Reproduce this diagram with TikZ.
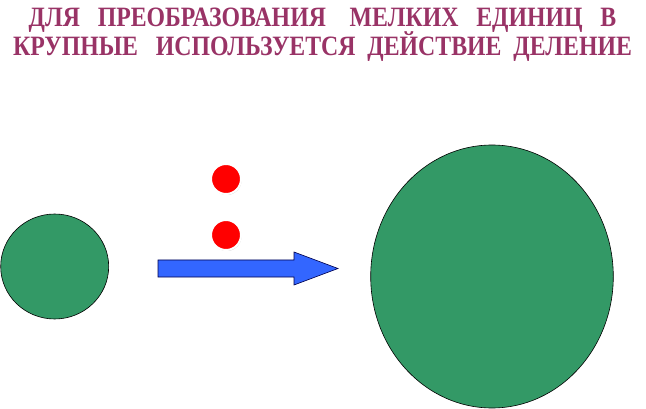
\documentclass[tikz,border=0pt]{standalone}
\usepackage{fontspec}
\setmainfont{Liberation Serif}
\newfontfamily\titlefont[FakeStretch=0.85]{Liberation Serif}
\usetikzlibrary{shapes.geometric,shadows}
\definecolor{titleplum}{RGB}{153,51,102}
\definecolor{unitgreen}{RGB}{51,153,102}
\definecolor{arrowblue}{RGB}{51,102,255}
\begin{document}
\begin{tikzpicture}[x=1pt,y=-1pt,
  heading/.style={text=titleplum, font=\titlefont\fontsize{28}{28}\selectfont\bfseries, inner sep=0pt, anchor=base},
  unit/.style={ellipse, draw=black, line width=0.6pt, fill=unitgreen, inner sep=0pt},
  dot/.style={circle, fill=red, draw=white, line width=2pt, minimum size=30pt, inner sep=0pt,
    drop shadow={shadow xshift=0.6pt, shadow yshift=-1pt, fill=gray!45, opacity=1}},
  pointer/.style={fill=arrowblue, draw=black!70!blue, line width=0.6pt}]
  \useasboundingbox (0,0) rectangle (646,409);
  \node [heading](TitleA) at (322.5,27){ДЛЯ~~~ПРЕОБРАЗОВАНИЯ~~~~МЕЛКИХ~~~ЕДИНИЦ~~~В};
  \node [heading](TitleB) at (322.5,56){КРУПНЫЕ~~~ИСПОЛЬЗУЕТСЯ~~ДЕЙСТВИЕ~~ДЕЛЕНИЕ};
  \node [unit, minimum width=108pt, minimum height=105pt](Small) at (54.7,266.5){};
  \node [unit, minimum width=242.6pt, minimum height=263pt](Large) at (492,276.5){};
  \node [dot](DotA) at (226,179){};
  \node [dot](DotB) at (226,235){};
  \draw [pointer] (158,260) -- (294,260) -- (294,252) -- (338,268.5) -- (294,285) -- (294,277) -- (158,277) -- cycle;
\end{tikzpicture}
\end{document}
